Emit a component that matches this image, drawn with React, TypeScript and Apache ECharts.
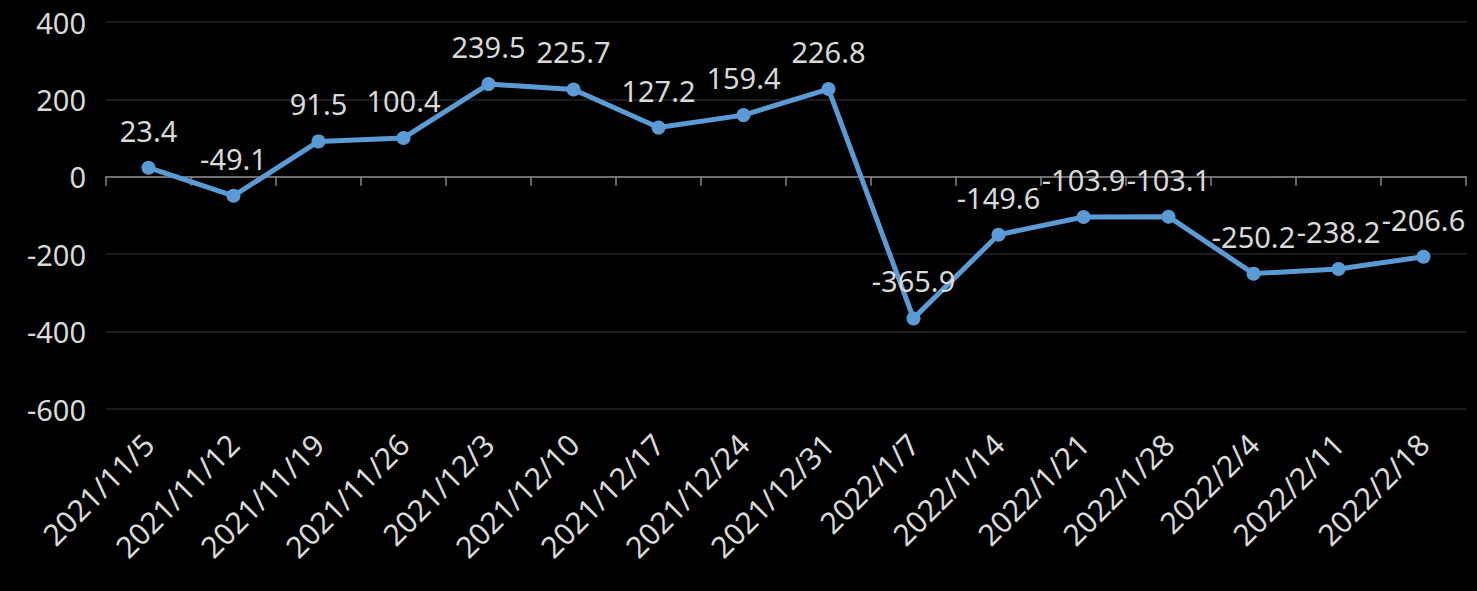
import React, { useEffect, useRef } from "react";
import * as echarts from "echarts";

const categories = [
  "2021/11/5", "2021/11/12", "2021/11/19", "2021/11/26", "2021/12/3", "2021/12/10",
  "2021/12/17", "2021/12/24", "2021/12/31", "2022/1/7", "2022/1/14", "2022/1/21",
  "2022/1/28", "2022/2/4", "2022/2/11", "2022/2/18",
];
const values = [
  23.4, -49.1, 91.5, 100.4, 239.5, 225.7, 127.2, 159.4, 226.8, -365.9, -149.6,
  -103.9, -103.1, -250.2, -238.2, -206.6,
];
const yMin = -600;
const yMax = 400;
const yInterval = 200;

const FONT = "'Noto Sans', 'Open Sans', sans-serif";
const TEXT = "#d9d9d9";

export default function App() {
  const ref = useRef<HTMLDivElement>(null);
  useEffect(() => {
    if (!ref.current) return;
    const chart = echarts.init(ref.current, undefined, { renderer: "svg" });
    chart.setOption({
      animation: false,
      backgroundColor: "#000000",
      grid: { left: 106, right: 11, top: 22, bottom: 182, containLabel: false },
      xAxis: [
        {
          type: "category",
          data: categories,
          boundaryGap: true,
          axisLine: { onZero: true, lineStyle: { color: "#898989", width: 1.5 } },
          axisTick: { show: true, length: 9, interval: 0, lineStyle: { color: "#898989", width: 1.5 } },
          axisLabel: { show: false },
          splitLine: { show: false },
        },
        {
          type: "category",
          data: categories,
          position: "bottom",
          boundaryGap: true,
          axisLine: { show: false, onZero: false },
          axisTick: { show: false },
          axisLabel: {
            show: true,
            interval: 0,
            rotate: 45,
            margin: 30,
            color: TEXT,
            fontFamily: FONT,
            fontSize: 30,
          },
          splitLine: { show: false },
        },
      ],
      yAxis: {
        type: "value",
        min: yMin,
        max: yMax,
        interval: yInterval,
        axisLine: { show: false },
        axisTick: { show: false },
        axisLabel: { color: TEXT, fontFamily: FONT, fontSize: 29, margin: 20 },
        splitLine: { lineStyle: { color: "#262626", width: 1.5 } },
      },
      series: [
        {
          type: "line",
          data: values,
          xAxisIndex: 0,
          symbol: "circle",
          symbolSize: 14,
          lineStyle: { color: "#5B9BD5", width: 5 },
          itemStyle: { color: "#5B9BD5" },
          label: {
            show: true,
            position: "top",
            distance: 16,
            color: TEXT,
            fontFamily: FONT,
            fontSize: 29,
            formatter: (p: any) => String(p.value),
          },
        },
      ],
    });
    return () => chart.dispose();
  }, []);
  return <div ref={ref} style={{ width: 1477, height: 591, position: "absolute", left: 0, top: 0 }} />;
}
